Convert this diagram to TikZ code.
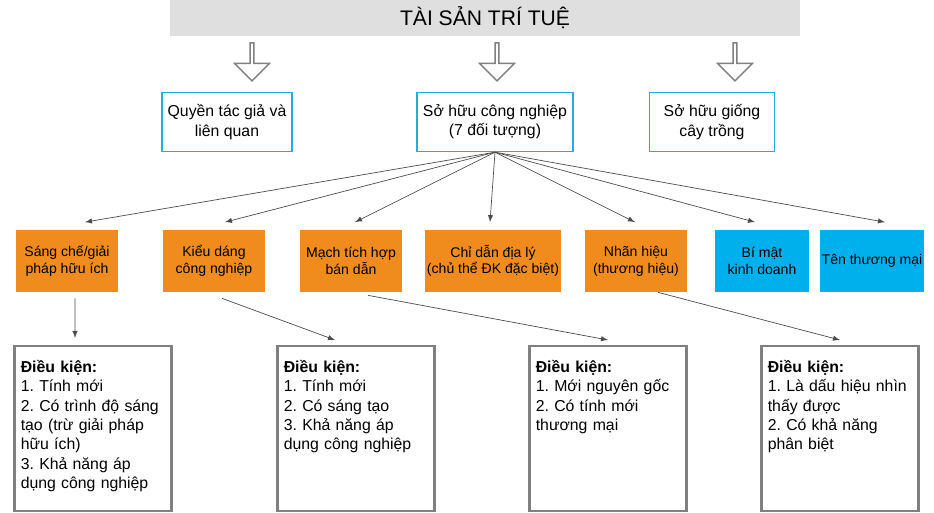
\documentclass[tikz,border=0pt]{standalone}
\usepackage{fontspec}
\setmainfont{Liberation Sans}
\usetikzlibrary{shapes,arrows,positioning,shapes.arrows}
\definecolor{orangebox}{RGB}{240,140,30}
\definecolor{cyanbox}{RGB}{0,176,236}
\definecolor{frameblue}{RGB}{40,170,220}
\frenchspacing
\begin{document}
\begin{tikzpicture}[x=0.02cm,y=-0.02cm,
  toptype/.style={draw=frameblue,thick,fill=white,minimum width=2.5cm,minimum height=1.18cm,align=center,font=\small},
  objbox/.style={fill=orangebox,minimum width=2.04cm,minimum height=1.24cm,align=center,font=\footnotesize,inner sep=1pt},
  secbox/.style={fill=cyanbox,minimum width=1.9cm,minimum height=1.24cm,align=center,font=\footnotesize,inner sep=1pt},
  condbox/.style={draw=gray,very thick,minimum width=3.14cm,minimum height=3.3cm,anchor=north},
  condtext/.style={anchor=north west,align=left,text width=2.85cm,font=\small,inner sep=0pt},
  hollow/.style={single arrow,draw=gray,thick,shape border rotate=270,minimum height=0.76cm,minimum width=0.7cm,single arrow head extend=0.12cm,inner sep=0pt},
  link/.style={-latex,gray!60!black,thin}]
\useasboundingbox (0,0) rectangle (934,513);

\node[fill=gray!25,minimum width=12.6cm,minimum height=0.74cm,font=\large] (title) at (485,18) {TÀI SẢN TRÍ TUỆ};
\foreach \x/\n in {252/a1,497/a2,735/a3}
  \node[hollow] (\n) at (\x,61) {};

\node[toptype] (author) at (227,122) {Quyền tác giả và\\liên quan};
\node[toptype,minimum width=3cm] (industry) at (495,122) {Sở hữu công nghiệp\\(7 đối tượng)};
\node[toptype] (plant) at (712,122) {Sở hữu giống\\cây trồng};

\node[objbox] (patent) at (67,261) {Sáng chế/giải\\pháp hữu ích};
\node[objbox] (design) at (214,261) {Kiểu dáng\\công nghiệp};
\node[objbox] (chip) at (351,261) {Mạch tích hợp\\bán dẫn};
\node[objbox,minimum width=2.46cm] (geo) at (493,261) {Chỉ dẫn địa lý\\(chủ thể ĐK đặc biệt)};
\node[objbox] (mark) at (636,261) {Nhãn hiệu\\(thương hiệu)};
\node[secbox] (secret) at (762,261) {Bí mật\\kinh doanh};
\node[secbox] (trade) at (872,261) {Tên thương mại};

\foreach \t/\dx in {patent/18,design/11,chip/4,geo/-3,mark/-1,secret/-7,trade/13}
  \draw[link] (industry.south) -- ([xshift=\dx*0.02cm,yshift=0.15cm]\t.north);

\node[condbox] (c1) at (93,345) {};
\node[condbox] (c2) at (356,345) {};
\node[condbox] (c3) at (608,345) {};
\node[condbox] (c4) at (840,345) {};
\node[condtext] (c1t) at ([xshift=0.14cm,yshift=-0.3cm]c1.north west) {\textbf{Điều kiện:}\\1. Tính mới\\2. Có trình độ sáng tạo (trừ giải pháp hữu ích)\\3. Khả năng áp dụng công nghiệp};
\node[condtext] (c2t) at ([xshift=0.14cm,yshift=-0.3cm]c2.north west) {\textbf{Điều kiện:}\\1. Tính mới\\2. Có sáng tạo\\3. Khả năng áp dụng công nghiệp};
\node[condtext] (c3t) at ([xshift=0.14cm,yshift=-0.3cm]c3.north west) {\textbf{Điều kiện:}\\1. Mới nguyên gốc\\2. Có tính mới thương mại};
\node[condtext] (c4t) at ([xshift=0.14cm,yshift=-0.3cm]c4.north west) {\textbf{Điều kiện:}\\1. Là dấu hiệu nhìn thấy được\\2. Có khả năng phân biệt};

\draw[link] ([xshift=0.16cm,yshift=-0.12cm]patent.south) -- ([xshift=-0.36cm,yshift=0.14cm]c1.north);
\draw[link] ([xshift=0.16cm,yshift=-0.12cm]design.south) -- ([xshift=-0.42cm,yshift=0.1cm]c2.north);
\draw[link] ([xshift=0.34cm,yshift=-0.06cm]chip.south) -- ([yshift=0.1cm]c3.north);
\draw[link] ([xshift=0.44cm]mark.south) -- ([yshift=0.1cm]c4.north);
\end{tikzpicture}
\end{document}
